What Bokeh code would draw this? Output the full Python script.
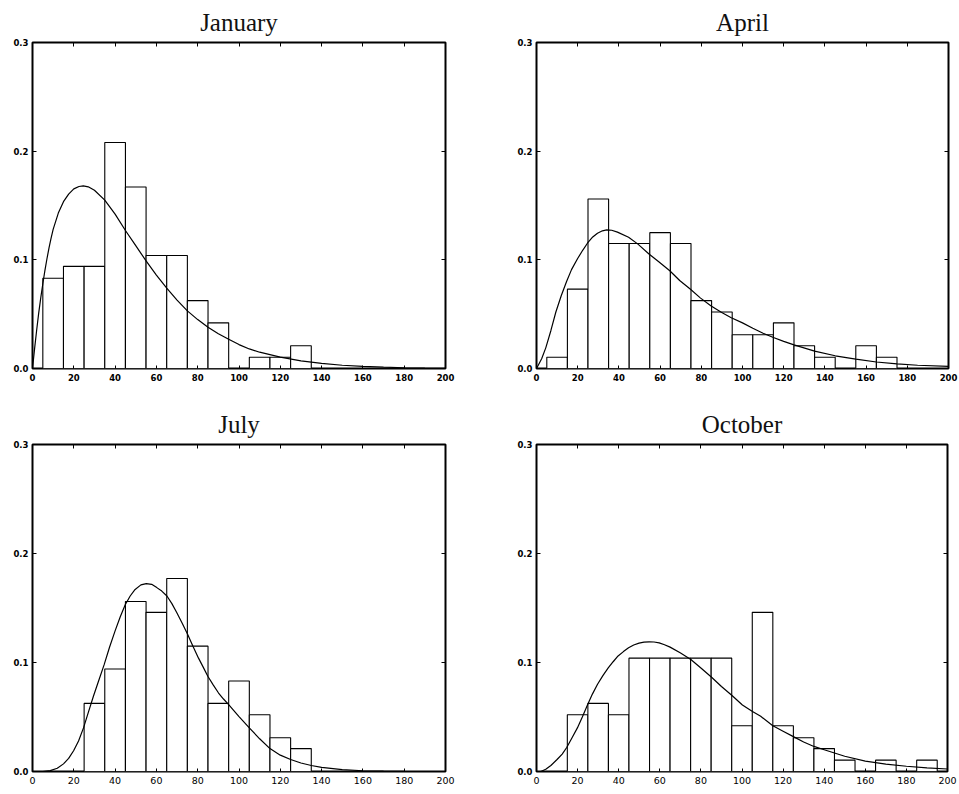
from bokeh.plotting import figure
from bokeh.layouts import column, row
from bokeh.models import LinearAxis, FixedTicker, PrintfTickFormatter, Range1d, CustomJSTickFormatter
from bokeh.embed import file_html
from bokeh.resources import INLINE

# ---------------- data ----------------
x_ticks = [0, 20, 40, 60, 80, 100, 120, 140, 160, 180, 200]
y_ticks = [0.0, 0.1, 0.2, 0.3]
bin_edges = [5, 15, 25, 35, 45, 55, 65, 75, 85, 95, 105, 115, 125, 135, 145, 155, 165, 175, 185, 195]

jan_hist = [0.083, 0.094, 0.094, 0.208, 0.167, 0.104, 0.104, 0.0625, 0.042, 0, 0.0104, 0.0104, 0.021, 0, 0, 0, 0, 0, 0]
apr_hist = [0.0104, 0.073, 0.156, 0.115, 0.115, 0.125, 0.115, 0.0625, 0.052, 0.031, 0.031, 0.042, 0.021, 0.0104, 0, 0.021, 0.0104, 0, 0]
jul_hist = [0, 0, 0.0625, 0.094, 0.156, 0.146, 0.177, 0.115, 0.0625, 0.083, 0.052, 0.031, 0.021, 0, 0, 0, 0, 0, 0]
oct_hist = [0, 0.052, 0.0625, 0.052, 0.104, 0.104, 0.104, 0.104, 0.104, 0.042, 0.146, 0.042, 0.031, 0.021, 0.0104, 0, 0.0104, 0, 0.0104]

jan_x = [0, 1, 2, 3, 4, 5, 6, 7, 8, 9, 10, 12.5, 15, 17.5, 20, 22.5, 24.6, 27, 30, 35, 40, 45, 50, 55, 60, 65, 70, 75, 80, 85, 90, 95, 100, 105, 110, 120, 130, 140, 150, 160, 170, 180, 190, 200]
jan_y = [0, 0.018, 0.035, 0.051, 0.065, 0.078, 0.090, 0.101, 0.111, 0.120, 0.128, 0.143, 0.1535, 0.1605, 0.1653, 0.1675, 0.168, 0.1672, 0.164, 0.155, 0.142, 0.127, 0.113, 0.099, 0.086, 0.074, 0.063, 0.053, 0.045, 0.038, 0.032, 0.027, 0.022, 0.018, 0.015, 0.0105, 0.007, 0.0048, 0.003, 0.0019, 0.0012, 0.0007, 0.0004, 0.0002]

apr_x = [0, 2.5, 4.5, 7, 9.4, 12, 14.6, 17, 19.9, 22.5, 24.8, 27, 29.6, 32, 34.1, 36.5, 39.3, 44.7, 49.1, 54.6, 59.5, 64.7, 69.5, 74.6, 79.5, 84.6, 89.5, 94.3, 100, 105, 110, 115, 120, 125, 135, 145, 155, 165, 175, 185, 200]
apr_y = [0, 0.009, 0.019, 0.035, 0.052, 0.067, 0.080, 0.091, 0.101, 0.109, 0.1155, 0.1205, 0.1245, 0.1267, 0.1276, 0.1272, 0.1255, 0.1208, 0.1147, 0.1054, 0.098, 0.090, 0.081, 0.0732, 0.065, 0.0578, 0.052, 0.047, 0.042, 0.037, 0.0325, 0.0285, 0.025, 0.0218, 0.016, 0.0117, 0.0086, 0.006, 0.0043, 0.003, 0.002]

jul_x = [0, 5, 8.6, 12, 15, 17.5, 19.9, 22.3, 24.7, 27, 29.5, 32, 34.7, 37.3, 40, 42.5, 44.9, 47.3, 49.7, 52.5, 55.1, 57.7, 60.2, 62.6, 65.1, 67.5, 69.9, 72.5, 75.1, 77.7, 80.4, 82.6, 84.9, 87.5, 90.1, 92.5, 95, 97.5, 99.9, 105, 110, 115, 120, 125, 130, 135, 140, 150, 160, 170, 180, 200]
jul_y = [0, 0, 0.0008, 0.003, 0.007, 0.012, 0.019, 0.028, 0.040, 0.054, 0.069, 0.083, 0.098, 0.114, 0.129, 0.142, 0.153, 0.161, 0.167, 0.1712, 0.1724, 0.1717, 0.1687, 0.1655, 0.161, 0.154, 0.1457, 0.136, 0.126, 0.115, 0.104, 0.096, 0.0874, 0.0795, 0.072, 0.0665, 0.0613, 0.0558, 0.0506, 0.040, 0.030, 0.021, 0.015, 0.011, 0.0078, 0.0055, 0.0038, 0.0017, 0.0007, 0.0003, 0.0001, 0]

oct_x = [0, 2.1, 4.5, 7, 10, 12.5, 14.7, 17.3, 19.9, 22.3, 24.8, 27.2, 29.7, 32.3, 34.9, 37.3, 39.7, 42.3, 44.8, 47.3, 49.9, 52.3, 54.8, 57.2, 59.7, 62.3, 65, 69.9, 75.1, 80, 85.2, 90, 95, 100.2, 105.1, 109.1, 115, 120, 125, 130, 135, 140, 145, 150, 160, 170, 180, 190, 200]
oct_y = [0, 0, 0.002, 0.0055, 0.011, 0.016, 0.022, 0.031, 0.040, 0.050, 0.061, 0.071, 0.080, 0.088, 0.095, 0.1007, 0.106, 0.110, 0.1135, 0.116, 0.1178, 0.1187, 0.119, 0.1188, 0.118, 0.1163, 0.1141, 0.1089, 0.1028, 0.095, 0.0865, 0.078, 0.070, 0.061, 0.055, 0.0506, 0.042, 0.037, 0.032, 0.027, 0.023, 0.020, 0.017, 0.014, 0.0095, 0.0068, 0.0048, 0.0033, 0.0023]

TICK_FONT = "DejaVu Sans"
TITLE_FONT = "Liberation Serif"


def make_panel(title, hist, cx, cy, width, height, mb_left, mb_right, mb_top, mb_bottom, x_bold, x_size):
    p = figure(width=width, height=height, x_range=Range1d(0, 200), y_range=Range1d(0, 0.3),
               output_backend="svg", toolbar_location=None,
               min_border_left=mb_left, min_border_right=mb_right,
               min_border_top=mb_top, min_border_bottom=mb_bottom,
               background_fill_color="white", border_fill_color="white")
    p.title.text = title
    p.title.align = "center"
    p.title.vertical_align = "top"
    p.title.text_font = TITLE_FONT
    p.title.text_font_size = "25px"
    p.title.text_font_style = "normal"
    p.title.text_color = "#111111"
    p.title.standoff = 10
    p.grid.visible = False
    p.outline_line_color = "black"
    p.outline_line_width = 2

    # bottom axis
    xa = p.xaxis[0]
    xa.ticker = FixedTicker(ticks=x_ticks)
    xa.major_tick_in = 3
    xa.major_tick_out = 0
    xa.minor_tick_line_color = None
    xa.axis_line_color = None
    xa.major_label_standoff = 5
    xa.major_label_text_font = TICK_FONT
    xa.major_label_text_font_size = x_size
    xa.major_label_text_font_style = "bold" if x_bold else "normal"
    xa.major_label_text_color = "black"
    # left axis
    ya = p.yaxis[0]
    ya.ticker = FixedTicker(ticks=y_ticks)
    ya.formatter = PrintfTickFormatter(format="%.1f")
    ya.major_tick_in = 4
    ya.major_tick_out = 0
    ya.minor_tick_line_color = None
    ya.axis_line_color = None
    ya.major_label_standoff = 4
    ya.major_label_text_font = TICK_FONT
    ya.major_label_text_font_size = "8.5px"
    ya.major_label_text_font_style = "bold"
    ya.major_label_text_color = "black"
    # top and right axes (ticks only, no labels)
    blank = CustomJSTickFormatter(code="return '';")
    top = LinearAxis(ticker=FixedTicker(ticks=x_ticks), major_tick_in=4, major_tick_out=0,
                     minor_tick_line_color=None, axis_line_color=None,
                     formatter=blank, major_label_standoff=0)
    right = LinearAxis(ticker=FixedTicker(ticks=y_ticks), major_tick_in=4, major_tick_out=0,
                       minor_tick_line_color=None, axis_line_color=None,
                       formatter=blank, major_label_standoff=0)
    p.add_layout(top, "above")
    p.add_layout(right, "right")

    left = [bin_edges[i] for i, h in enumerate(hist) if h > 0]
    rgt = [bin_edges[i + 1] for i, h in enumerate(hist) if h > 0]
    tops = [h for h in hist if h > 0]
    p.quad(left=left, right=rgt, bottom=0, top=tops, fill_color="white",
           line_color="black", line_width=1.1)
    p.line(cx, cy, line_color="black", line_width=1.2)
    return p


p1 = make_panel("January", jan_hist, jan_x, jan_y, 500, 401, 32, 55, 42, 33, True, "8.5px")
p2 = make_panel("April", apr_hist, apr_x, apr_y, 459, 401, 36, 11, 42, 33, True, "8.5px")
p3 = make_panel("July", jul_hist, jul_x, jul_y, 500, 393, 32, 55, 43, 23, False, "9.5px")
p4 = make_panel("October", oct_hist, oct_x, oct_y, 459, 393, 36, 12, 43, 23, False, "9.5px")

layout = column(row(p1, p2), row(p3, p4))
open("out.html", "w").write(file_html(layout, INLINE))
